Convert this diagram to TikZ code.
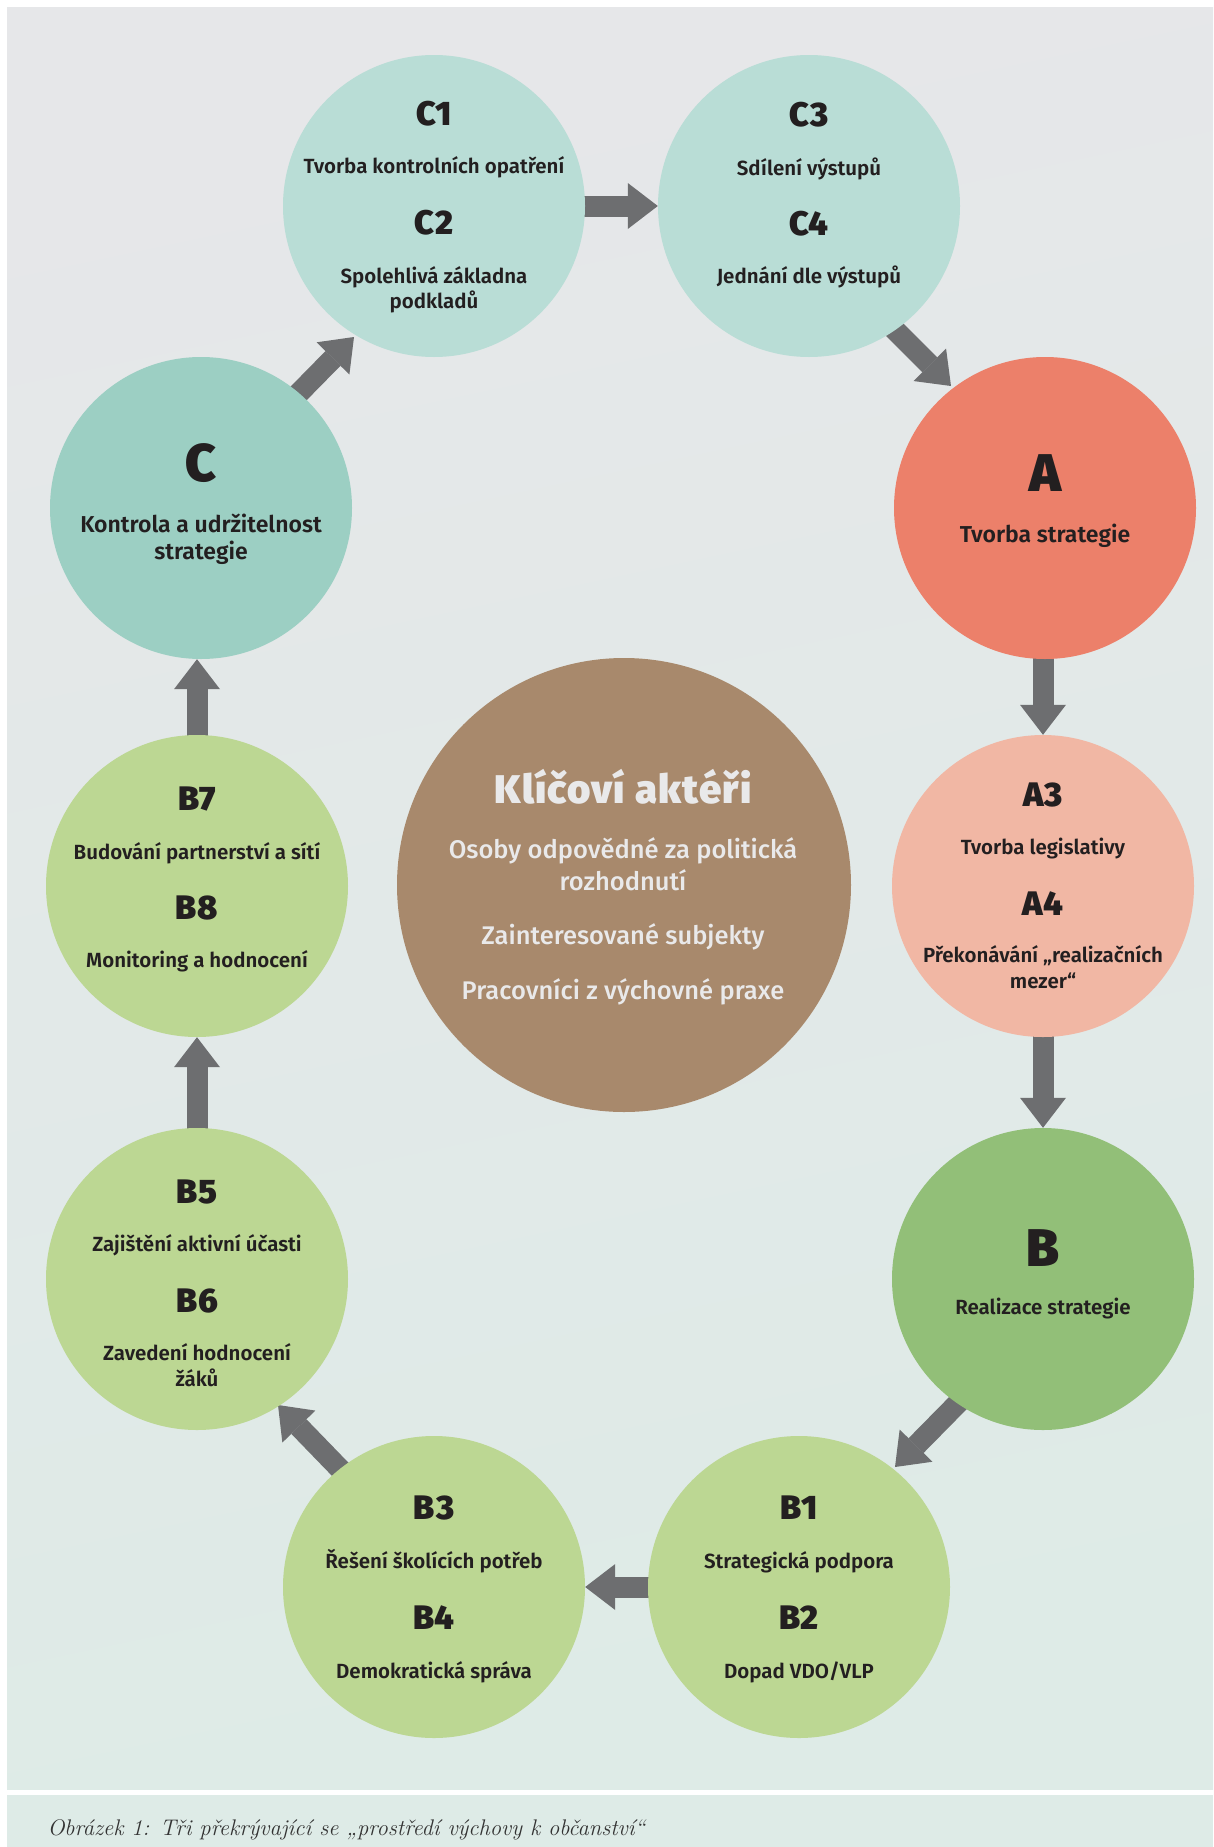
\documentclass[tikz,border=0pt]{standalone}
\usepackage{fontspec}
\usetikzlibrary{arrows.meta,calc}
\newfontfamily\heavyfont{Fira Sans Black}[LetterSpace=3]
\newfontfamily\semifont{Fira Sans SemiBold}
\newfontfamily\regfont{Fira Sans Medium}
\definecolor{bgtop}{HTML}{E6E7E9}
\definecolor{bgbot}{HTML}{DEEBE7}
\definecolor{capbg}{HTML}{DEEBE7}
\definecolor{tealL}{HTML}{B9DDD6}
\definecolor{tealM}{HTML}{9CCFC3}
\definecolor{salmon}{HTML}{EC806A}
\definecolor{peach}{HTML}{F1B7A4}
\definecolor{greenM}{HTML}{92BF78}
\definecolor{greenL}{HTML}{BCD793}
\definecolor{brownC}{HTML}{A8896C}
\definecolor{arrowgray}{HTML}{6D6E70}
\definecolor{txt}{HTML}{231F20}
\definecolor{lighttxt}{HTML}{E9E9EA}
\definecolor{captxt}{HTML}{333333}
\pgfdeclarelayer{back}
\pgfdeclarelayer{bg}
\pgfsetlayers{back,bg,main}
\begin{document}
\begin{tikzpicture}[x=1pt,y=-1pt,
  circ/.style={circle,minimum size=302pt,inner sep=0pt,draw=none},
  bigarrow/.style={line width=21pt,color=arrowgray,shorten <=-8pt,
    -{Triangle[length=30pt,width=46pt,line width=0pt]}},
  hd/.style={anchor=base,text=txt,font=\heavyfont\fontsize{34}{34}\selectfont},
  hdmain/.style={anchor=base,text=txt,font=\heavyfont\fontsize{53}{53}\selectfont},
  tx/.style={anchor=base,text=txt,font=\semifont\fontsize{20.5}{24}\selectfont},
  txmain/.style={anchor=base,text=txt,font=\semifont\fontsize{23}{27}\selectfont},
  kh/.style={anchor=base,text=lighttxt,font=\heavyfont\fontsize{40}{40}\selectfont},
  kt/.style={anchor=base,text=lighttxt,font=\regfont\fontsize{25.5}{30}\selectfont},
  captext/.style={anchor=base west,text=captxt,font=\itshape\fontsize{22.6}{22.6}\selectfont}]
\useasboundingbox (0,0) rectangle (1213,1847);
\begin{pgfonlayer}{back}
\fill[white] (0,0) rectangle (1213,1847);
\shade[top color=bgtop,bottom color=bgbot,shading angle=12] (7,7) rectangle (1213,1789);
\fill[capbg] (7,1795) rectangle (1213,1847);
\end{pgfonlayer}
% circles
\node[circ,fill=tealL] (C1) at (434,206) {};
\node[circ,fill=tealL] (C3) at (809,206) {};
\node[circ,fill=tealM] (C) at (201,508) {};
\node[circ,fill=salmon] (A) at (1045,508) {};
\node[circ,fill=peach] (A3) at (1043,886) {};
\node[circ,fill=greenM] (B) at (1043,1279) {};
\node[circ,fill=greenL] (B1) at (799,1587) {};
\node[circ,fill=greenL] (B3) at (434,1587) {};
\node[circ,fill=greenL] (B5) at (197,1279) {};
\node[circ,fill=greenL] (B7) at (197,886) {};
\node[circle,minimum size=454pt,inner sep=0pt,fill=brownC] (K) at (624,885) {};
% arrows
\begin{pgfonlayer}{bg}
\draw[bigarrow] (C1.east) -- (C3.west);
\draw[bigarrow] ($(C3)+(87,125)$) -- ($(A)+(-94,-122)$);
\draw[bigarrow] (A3.north |- A.south) -- (A3.north);
\draw[bigarrow] (A3.south) -- (B.north);
\draw[bigarrow] ($(B)+(-87,126)$) -- ($(B1)+(96,-120)$);
\draw[bigarrow] (B1.west) -- (B3.east);
\draw[bigarrow] ($(B3)+(-95,-119)$) -- ($(B5)+(81,126)$);
\draw[bigarrow] (B5.north) -- (B7.south);
\draw[bigarrow] (B7.north) -- (B7.north |- C.south);
\draw[bigarrow] ($(C)+(99,-116)$) -- ($(C1)+(-80,131)$);
\end{pgfonlayer}
% C1
\node[hd] (c1h) at ($(C1)+(0,-81)$) {C1};
\node[tx] (c1t) at ($(C1)+(0,-33)$) {Tvorba kontrolních opatření};
\node[hd] (c2h) at ($(C1)+(0,28)$) {C2};
\node[tx] (c2t) at ($(C1)+(0,77.5)$) {Spolehlivá základna};
\node[tx] (c2u) at ($(C1)+(0,102)$) {podkladů};
% C3
\node[hd] (c3h) at ($(C3)+(0,-80)$) {C3};
\node[tx] (c3t) at ($(C3)+(0,-31)$) {Sdílení výstupů};
\node[hd] (c4h) at ($(C3)+(0,29)$) {C4};
\node[tx] (c4t) at ($(C3)+(0,77)$) {Jednání dle výstupů};
% C
\node[hdmain] (ch) at ($(C)+(0,-27)$) {C};
\node[txmain] (ct) at ($(C)+(0,24)$) {Kontrola a udržitelnost};
\node[txmain] (cu) at ($(C)+(0,51)$) {strategie};
% A
\node[hdmain] (ah) at ($(A)+(0,-17)$) {A};
\node[txmain] (at) at ($(A)+(0,34)$) {Tvorba strategie};
% A3
\node[hd] (a3h) at ($(A3)+(0,-80)$) {A3};
\node[tx] (a3t) at ($(A3)+(0,-32)$) {Tvorba legislativy};
\node[hd] (a4h) at ($(A3)+(0,29)$) {A4};
\node[tx] (a4t) at ($(A3)+(0,76)$) {Překonávání „realizačních};
\node[tx] (a4u) at ($(A3)+(0,102)$) {mezer“};
% B
\node[hdmain] (bh) at ($(B)+(0,-13)$) {B};
\node[tx] (bt) at ($(B)+(0,35)$) {Realizace strategie};
% B7
\node[hd] (b7h) at ($(B7)+(0,-76)$) {B7};
\node[tx] (b7t) at ($(B7)+(0,-27)$) {Budování partnerství a sítí};
\node[hd] (b8h) at ($(B7)+(0,33)$) {B8};
\node[tx] (b8t) at ($(B7)+(0,81)$) {Monitoring a hodnocení};
% B5
\node[hd] (b5h) at ($(B5)+(0,-76)$) {B5};
\node[tx] (b5t) at ($(B5)+(0,-28)$) {Zajištění aktivní účasti};
\node[hd] (b6h) at ($(B5)+(0,33)$) {B6};
\node[tx] (b6t) at ($(B5)+(0,81)$) {Zavedení hodnocení};
\node[tx] (b6u) at ($(B5)+(0,107)$) {žáků};
% B3
\node[hd] (b3h) at ($(B3)+(0,-68)$) {B3};
\node[tx] (b3t) at ($(B3)+(0,-19)$) {Řešení školících potřeb};
\node[hd] (b4h) at ($(B3)+(0,42)$) {B4};
\node[tx] (b4t) at ($(B3)+(0,91)$) {Demokratická správa};
% B1
\node[hd] (b1h) at ($(B1)+(0,-68)$) {B1};
\node[tx] (b1t) at ($(B1)+(0,-19)$) {Strategická podpora};
\node[hd] (b2h) at ($(B1)+(0,42)$) {B2};
\node[tx] (b2t) at ($(B1)+(0,91)$) {Dopad VDO/VLP};
% center
\node[kh] (kh1) at ($(K)+(-1,-82)$) {Klíčoví aktéři};
\node[kt] (kt1) at ($(K)+(-1,-27)$) {Osoby odpovědné za politická};
\node[kt] (kt2) at ($(K)+(-1,5)$) {rozhodnutí};
\node[kt] (kt3) at ($(K)+(-1,59)$) {Zainteresované subjekty};
\node[kt] (kt4) at ($(K)+(-1,114)$) {Pracovníci z výchovné praxe};
% caption
\node[captext] (capt) at (44,1835) {Obrázek 1: Tři překrývající se „prostředí výchovy k občanství“};
\end{tikzpicture}
\end{document}
